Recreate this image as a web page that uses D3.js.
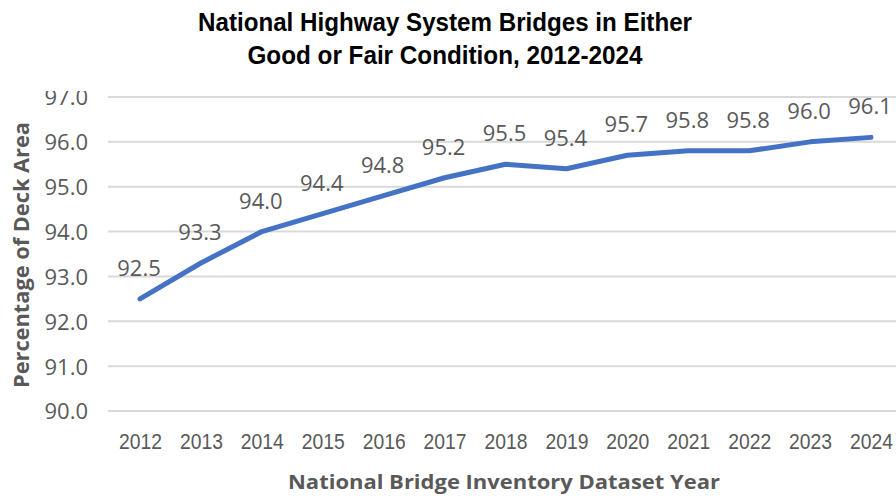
<!DOCTYPE html>
<html><head><meta charset="utf-8">
<script src="https://cdn.jsdelivr.net/npm/d3@7"></script>
<style>html,body{margin:0;padding:0;background:#fff;}svg{display:block;}</style>
</head><body>
<svg id="c" width="896" height="497"></svg>
<script>
const years = ["2012","2013","2014","2015","2016","2017","2018","2019","2020","2021","2022","2023","2024"];
const values = [92.5,93.3,94.0,94.4,94.8,95.2,95.5,95.4,95.7,95.8,95.8,96.0,96.1];
const yTicks = [90,91,92,93,94,95,96,97];
const titleLines = ["National Highway System Bridges in Either","Good or Fair Condition, 2012-2024"];
const xTitle = "National Bridge Inventory Dataset Year";
const yTitle = "Percentage of Deck Area";

const svg = d3.select("#c");
const x = d3.scalePoint().domain(years).range([140,871]);
const y = d3.scaleLinear().domain([90,97]).range([411,97]);

svg.append("defs").append("clipPath").attr("id","clipTop")
  .append("rect").attr("x",-300).attr("y",91).attr("width",1200).attr("height",406);

// grid
svg.append("g").selectAll("line").data(yTicks).join("line")
  .attr("x1",108).attr("x2",896)
  .attr("y1",d=>y(d)).attr("y2",d=>y(d))
  .attr("stroke","#d9d9d9").attr("stroke-width",2);

// y tick labels
const yAxis = d3.axisLeft(y).tickValues(yTicks).tickFormat(d3.format(".1f")).tickSize(0).tickPadding(0);
const gy = svg.append("g").attr("transform","translate(88,0)").attr("clip-path","url(#clipTop)").call(yAxis);
gy.select(".domain").remove();
gy.selectAll("text").attr("font-family","'Open Sans', sans-serif").attr("font-size",22)
  .attr("fill","#595959").attr("dy","0.36em");

// x tick labels
const xAxis = d3.axisBottom(x).tickSize(0).tickPadding(0);
const gx = svg.append("g").attr("transform","translate(0,449)").call(xAxis);
gx.select(".domain").remove();
gx.selectAll("text").attr("font-family","'Liberation Sans Narrow', sans-serif").attr("font-size",22)
  .attr("fill","#595959").attr("dy",0)
  .attr("textLength",43).attr("lengthAdjust","spacingAndGlyphs");

// line
const line = d3.line().x((d,i)=>x(years[i])).y(d=>y(d));
svg.append("path").datum(values).attr("d",line)
  .attr("fill","none").attr("stroke","#4472C4").attr("stroke-width",5)
  .attr("stroke-linejoin","round").attr("stroke-linecap","round");

// data labels
svg.append("g").selectAll("text").data(values).join("text")
  .attr("x",(d,i)=>x(years[i]) - 1).attr("y",d=>y(d)-23)
  .attr("text-anchor","middle")
  .attr("font-family","'Open Sans', sans-serif").attr("font-size",22).attr("fill","#595959")
  .text(d=>d3.format(".1f")(d));

// title
svg.append("g").selectAll("text").data(titleLines).join("text")
  .attr("x",445).attr("y",(d,i)=>31+i*33)
  .attr("text-anchor","middle")
  .attr("font-family","'Liberation Sans Narrow', 'Arial Narrow', sans-serif")
  .attr("font-weight","bold").attr("font-size",26).attr("fill","#000")
  .text(d=>d)
  .each(function(d,i){ d3.select(this).attr("textLength",[494,395][i]).attr("lengthAdjust","spacingAndGlyphs"); });

// x title
svg.append("text").attr("x",504).attr("y",489).attr("text-anchor","middle")
  .attr("font-family","'Open Sans', sans-serif").attr("font-weight","bold").attr("font-size",20)
  .attr("fill","#595959").attr("textLength",432).attr("lengthAdjust","spacingAndGlyphs")
  .text(xTitle);

// y title
svg.append("text").attr("transform","translate(29,255) rotate(-90)").attr("text-anchor","middle")
  .attr("font-family","'Open Sans', sans-serif").attr("font-weight","bold").attr("font-size",21)
  .attr("fill","#595959").attr("textLength",266).attr("lengthAdjust","spacingAndGlyphs")
  .text(yTitle);
</script>
</body></html>
